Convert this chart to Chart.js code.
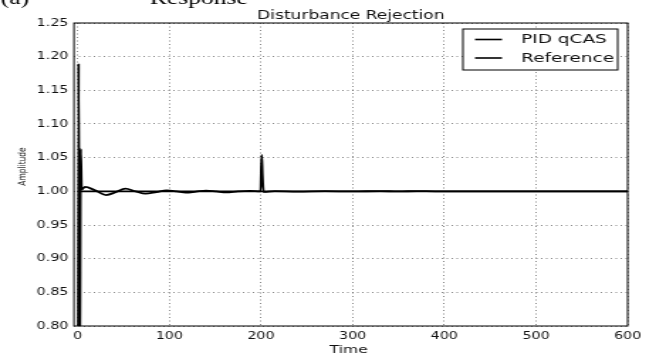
<!DOCTYPE html>
<html><head><meta charset="utf-8">
<script src="https://cdn.jsdelivr.net/npm/chart.js@4"></script>
<style>
html,body{margin:0;padding:0;background:#fff;overflow:hidden;}
#wrap{width:462px;height:356px;transform:scaleX(1.42);transform-origin:0 0;}
canvas{display:block;}
</style></head>
<body><div id="wrap"><canvas id="c" width="462" height="356"></canvas></div>
<script>
const titleText = 'Disturbance Rejection';
const xLabel = 'Time';
const yLabel = 'Amplitude';
const seriesNames = ['PID qCAS', 'Reference'];
const xTicks = [0, 100, 200, 300, 400, 500, 600];
const yTicks = [0.80, 0.85, 0.90, 0.95, 1.00, 1.05, 1.10, 1.15, 1.20, 1.25];
const xMin = -4, xMax = 600;

const pidTime  = [0, 1, 2.2, 3.3, 4.3, 8, 19, 31, 42, 52, 63, 74, 86, 97, 108, 118, 129, 140, 151, 162, 175, 188, 199.6, 200.7, 201.6, 202.8, 205, 215, 240, 270, 300, 330, 350, 370, 390, 450, 600];
const pidValue = [0, 1.19, 0.70, 1.063, 1.003, 1.0065, 1.0015, 0.9945, 0.999, 1.004, 1.0, 0.9965, 0.999, 1.0015, 1.0, 0.998, 0.9995, 1.0012, 1.0, 0.9985, 1.0, 1.0008, 1.0, 1.054, 1.024, 0.999, 0.9993, 1.0004, 0.9997, 1.0003, 0.9998, 1.0004, 0.9998, 1.0004, 1.0, 1.0, 1.0];
const refTime  = [0, 600];
const refValue = [1, 1];

const toXY = (t, v) => t.map((x, i) => ({x: x, y: v[i]}));

const decor = {
  id: 'decor',
  afterDraw(chart) {
    const ctx = chart.ctx, a = chart.chartArea;
    ctx.save();
    ctx.strokeStyle = '#000'; ctx.lineWidth = 1; ctx.setLineDash([]);
    ctx.strokeRect(a.left, a.top, a.right - a.left, a.bottom - a.top);
    ctx.fillStyle = '#111';
    ctx.font = '12px "DejaVu Sans"';
    ctx.textAlign = 'center'; ctx.textBaseline = 'alphabetic';
    ctx.fillText(titleText, (a.left + a.right) / 2, 18.5);
    ctx.font = '11px "DejaVu Sans"';
    ctx.fillText(xLabel, (a.left + a.right) / 2 - 1.5, 353);
    ctx.save();
    ctx.translate(15.8, 166.5);
    ctx.rotate(-Math.PI / 2);
    ctx.font = '7.5px "DejaVu Sans"';
    ctx.textBaseline = 'middle';
    ctx.fillText(yLabel, 0, 0);
    ctx.restore();
    ctx.font = '18px "Liberation Serif"';
    ctx.textAlign = 'left'; ctx.textBaseline = 'alphabetic';
    ctx.fillStyle = '#000';
    ctx.fillText('(a)', 0.5, 4);
    ctx.fillText('Response', 105.6, 3.5);
    const lx = 326, ly = 29, lw = 109, lh = 41;
    ctx.fillStyle = '#fff';
    ctx.fillRect(lx, ly, lw, lh);
    ctx.strokeStyle = '#000'; ctx.lineWidth = 1;
    ctx.strokeRect(lx, ly, lw, lh);
    const rows = [39.5, 58];
    chart.data.datasets.forEach((ds, i) => {
      ctx.strokeStyle = ds.borderColor; ctx.lineWidth = 1.6;
      ctx.beginPath(); ctx.moveTo(334.5, rows[i]); ctx.lineTo(353.5, rows[i]); ctx.stroke();
      ctx.fillStyle = '#111';
      ctx.font = '13px "DejaVu Sans"';
      ctx.textBaseline = 'middle'; ctx.textAlign = 'left';
      ctx.fillText(ds.label, 367, rows[i] + 0.5);
    });
    ctx.restore();
  }
};

const gridOpts = {color: 'rgba(0,0,0,0.6)', lineWidth: 0.8, drawTicks: false};

new Chart(document.getElementById('c'), {
  type: 'line',
  data: {
    datasets: [
      {label: seriesNames[0], data: toXY(pidTime, pidValue), borderColor: '#000', borderWidth: 1.8,
       pointRadius: 0, cubicInterpolationMode: 'monotone', fill: false},
      {label: seriesNames[1], data: toXY(refTime, refValue), borderColor: '#000', borderWidth: 1.6,
       pointRadius: 0, fill: false}
    ]
  },
  options: {
    responsive: false, animation: false, devicePixelRatio: 1,
    layout: {padding: {left: 0, right: 20, top: 23, bottom: 0}},
    plugins: {legend: {display: false}, title: {display: false}, tooltip: {enabled: false}},
    scales: {
      x: {
        type: 'linear', min: xMin, max: xMax,
        afterBuildTicks: s => { s.ticks = xTicks.map(v => ({value: v})); },
        afterFit: s => { s.height = 30; },
        grid: gridOpts,
        border: {display: false, dash: [1, 2.5]},
        ticks: {padding: 4, color: '#111', font: {family: 'DejaVu Sans', size: 10}, maxRotation: 0,
                callback: v => String(v)}
      },
      y: {
        type: 'linear', min: 0.80, max: 1.25,
        afterBuildTicks: s => { s.ticks = yTicks.map(v => ({value: v})); },
        afterFit: s => { s.width = 52.1; },
        grid: gridOpts,
        border: {display: false, dash: [1, 2.5]},
        ticks: {padding: 4, color: '#111', font: {family: 'DejaVu Sans', size: 10},
                callback: v => Number(v).toFixed(2)}
      }
    }
  },
  plugins: [decor]
});
</script>
</body></html>
